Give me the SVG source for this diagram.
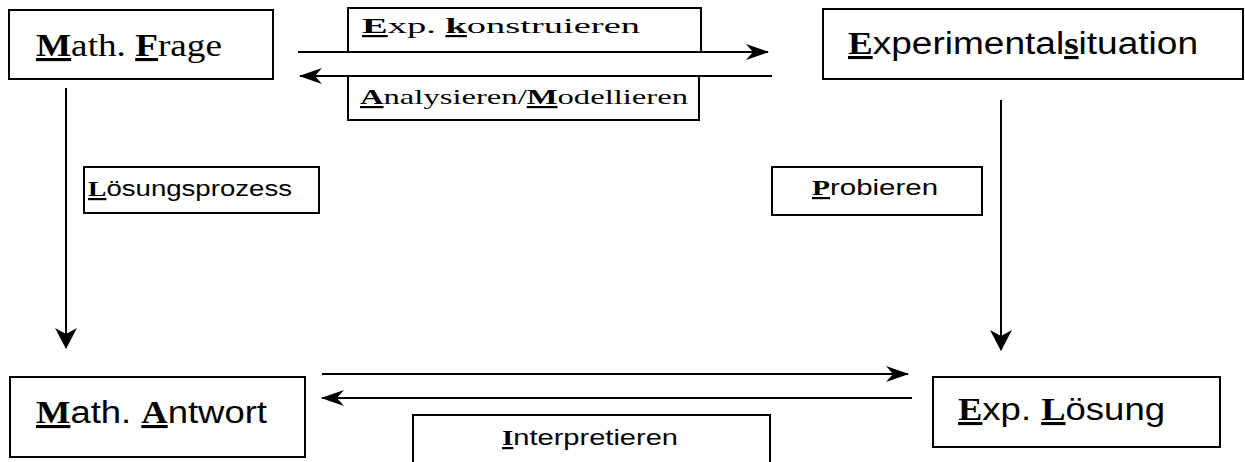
<svg xmlns="http://www.w3.org/2000/svg" width="1245" height="462" viewBox="0 0 1245 462">
<style>
.box{fill:#fff;stroke:#000;stroke-width:2}
.ser{font-family:"Liberation Serif","Times New Roman",serif;fill:#000}
.san{font-family:"Liberation Sans",Arial,sans-serif;fill:#000}
.k{font-family:"Liberation Serif","Times New Roman",serif;font-weight:bold;text-decoration:underline}
.big{font-size:31px}
.sm{font-size:22px}
.con line{stroke:#000;stroke-width:2;fill:none}
</style>
<defs>
<marker id="ah" viewBox="-24 -10 26 20" refX="0" refY="0" markerWidth="26" markerHeight="20" markerUnits="userSpaceOnUse" orient="auto">
<path d="M1,0 L-22,-8 L-15,0 L-22,8 Z" fill="#000"/>
</marker>
<marker id="av" viewBox="-22 -13 24 26" refX="0" refY="0" markerWidth="24" markerHeight="26" markerUnits="userSpaceOnUse" orient="auto">
<path d="M1,0 L-20,-11 L-14,0 L-20,11 Z" fill="#000"/>
</marker>
</defs>
<rect width="1245" height="462" fill="#fff"/>
<g id="n-math-frage">
<rect class="box" x="9" y="10" width="264" height="69"/>
<text class="ser big" x="36" y="56" textLength="186" lengthAdjust="spacingAndGlyphs"><tspan class="k">M</tspan>ath. <tspan class="k">F</tspan>rage</text>
</g>
<g id="n-experimentalsituation">
<rect class="box" x="823" y="9" width="420" height="70"/>
<text class="san big" x="848" y="54" textLength="350" lengthAdjust="spacingAndGlyphs"><tspan class="k">E</tspan>xperimental<tspan class="k">s</tspan>ituation</text>
</g>
<g id="n-math-antwort">
<rect class="box" x="10" y="377" width="295" height="80"/>
<text class="san big" x="36" y="423" textLength="231" lengthAdjust="spacingAndGlyphs"><tspan class="k">M</tspan>ath. <tspan class="k">A</tspan>ntwort</text>
</g>
<g id="n-exp-loesung">
<rect class="box" x="933" y="377" width="287" height="70"/>
<text class="san big" x="958" y="420" textLength="207" lengthAdjust="spacingAndGlyphs"><tspan class="k">E</tspan>xp. <tspan class="k">L</tspan>ösung</text>
</g>
<g id="connectors" class="con">
<line x1="298" y1="52" x2="768" y2="52" marker-end="url(#ah)"/>
<line x1="772" y1="76" x2="300" y2="76" marker-end="url(#ah)"/>
<line x1="66" y1="88" x2="66" y2="348" marker-end="url(#av)"/>
<line x1="1001" y1="100" x2="1001" y2="350" marker-end="url(#av)"/>
<line x1="322" y1="374" x2="908" y2="374" marker-end="url(#ah)"/>
<line x1="912" y1="398" x2="322" y2="398" marker-end="url(#ah)"/>
</g>
<g id="l-exp-konstruieren">
<rect class="box" x="348" y="8" width="353" height="44"/>
<text class="ser sm" x="362" y="33" textLength="278" lengthAdjust="spacingAndGlyphs"><tspan class="k">E</tspan>xp. <tspan class="k">k</tspan>onstruieren</text>
</g>
<g id="l-analysieren">
<rect class="box" x="348" y="76" width="351" height="44"/>
<text class="ser sm" x="360" y="104" textLength="328" lengthAdjust="spacingAndGlyphs"><tspan class="k">A</tspan>nalysieren/<tspan class="k">M</tspan>odellieren</text>
</g>
<g id="l-loesungsprozess">
<rect class="box" x="84" y="167" width="235" height="46"/>
<text class="san sm" x="88" y="196" textLength="204" lengthAdjust="spacingAndGlyphs"><tspan class="k">L</tspan>ösungsprozess</text>
</g>
<g id="l-probieren">
<rect class="box" x="772" y="167" width="210" height="48"/>
<text class="san sm" x="812" y="195" textLength="126" lengthAdjust="spacingAndGlyphs"><tspan class="k">P</tspan>robieren</text>
</g>
<g id="l-interpretieren">
<rect class="box" x="413" y="415" width="357" height="52"/>
<text class="san sm" x="502" y="445" textLength="176" lengthAdjust="spacingAndGlyphs"><tspan class="k">I</tspan>nterpretieren</text>
</g>
</svg>
